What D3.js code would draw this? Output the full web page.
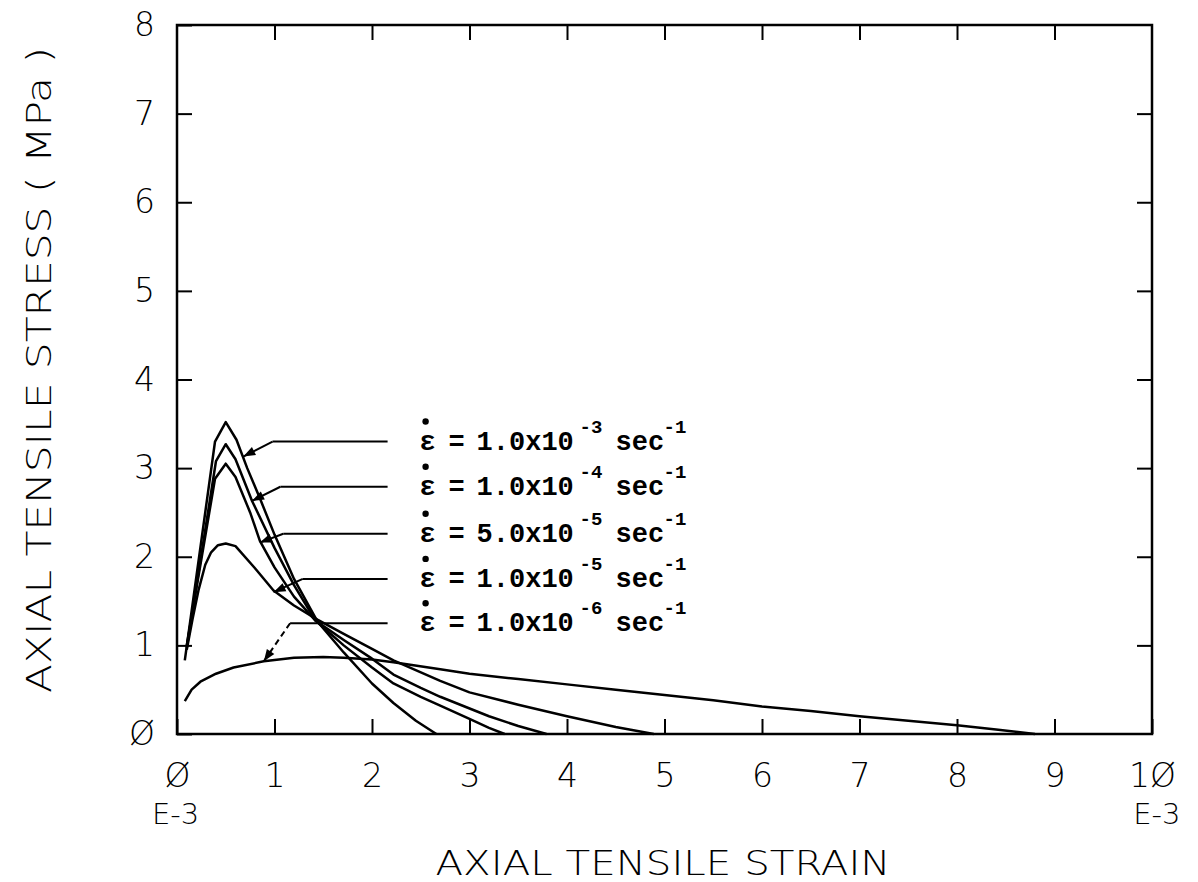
<!DOCTYPE html>
<meta charset="utf-8">
<style>
body{margin:0;background:#fff;}
svg{display:block;background:#fff;}
.plot text{font-family:"DejaVu Sans",sans-serif;font-weight:200;fill:#000;}
.legend text{font-family:"Liberation Mono",monospace;font-weight:bold;fill:#000;}
</style>
<svg width="1198" height="882"></svg>
<script src="https://d3js.org/d3.v7.min.js"></script>
<script>
// stress-strain curves, strain in 1e-3, stress in MPa
const curveRate3 = [[0.08,0.83],[0.39,3.3],[0.5,3.52],[0.61,3.32],[0.72,3.0],[0.85,2.66],[1.0,2.25],[1.2,1.75],[1.44,1.27],[1.71,0.92],[2.0,0.57],[2.22,0.35],[2.45,0.15],[2.66,0]]
const curveRate4 = [[0.1,0.97],[0.4,3.08],[0.5,3.27],[0.6,3.1],[0.77,2.63],[1.0,2.1],[1.2,1.68],[1.42,1.28],[1.71,1.0],[2.0,0.75],[2.22,0.57],[2.5,0.42],[2.7,0.32],[3.0,0.17],[3.2,0.07],[3.36,0]]
const curveRate5a = [[0.1,1.0],[0.39,2.88],[0.5,3.05],[0.6,2.9],[0.75,2.5],[0.85,2.18],[1.0,1.88],[1.2,1.55],[1.42,1.28],[1.71,1.06],[2.0,0.85],[2.22,0.67],[2.5,0.52],[2.7,0.42],[3.2,0.2],[3.5,0.09],[3.79,0]]
const curveRate5b = [[0.1,0.95],[0.16,1.3],[0.22,1.62],[0.29,1.91],[0.35,2.05],[0.42,2.13],[0.5,2.15],[0.6,2.12],[0.8,1.87],[0.99,1.62],[1.2,1.45],[1.44,1.29],[1.71,1.13],[2.0,0.96],[2.22,0.83],[2.7,0.6],[3.0,0.47],[3.5,0.33],[4.0,0.2],[4.5,0.08],[4.89,0]]
const curveRate6 = [[0.08,0.37],[0.15,0.5],[0.24,0.59],[0.4,0.68],[0.58,0.75],[0.89,0.82],[1.2,0.86],[1.5,0.87],[1.71,0.86],[2.0,0.84],[2.22,0.81],[2.7,0.73],[3.0,0.68],[3.5,0.62],[4.0,0.56],[4.5,0.5],[5.0,0.44],[5.5,0.38],[6.0,0.31],[6.5,0.26],[7.0,0.2],[7.5,0.15],[8.0,0.1],[8.4,0.05],[8.8,0]]
const curves = [curveRate3, curveRate4, curveRate5a, curveRate5b, curveRate6]

// legend: strain rate labels and leader lines
const rateMantissa = ["1.0", "1.0", "5.0", "1.0", "1.0"]
const rateExponent = ["-3", "-4", "-5", "-5", "-6"]
const leaderLevel = [3.3, 2.79, 2.26, 1.75, 1.25]
const leaderElbow = [0.98, 1.06, 1.09, 1.29, 1.16]
const leaderEnd = 2.16
const arrowTip = [[0.68,3.13],[0.77,2.63],[0.85,2.16],[0.99,1.6],[0.89,0.82]]

const xTicks = d3.range(0, 11)
const yTicks = d3.range(0, 9)

const svg = d3.select('svg')
const x = d3.scaleLinear().domain([0, 10]).range([177, 1152])
const y = d3.scaleLinear().domain([0, 8]).range([734, 25])
const slash = d => String(d).replace(/0/g, 'Ø')

const plot = svg.append('g').attr('class', 'plot')

// frame
plot.append('rect')
  .attr('x', x(0)).attr('y', y(8))
  .attr('width', x(10) - x(0)).attr('height', y(0) - y(8))
  .attr('fill', 'none').attr('stroke', '#000').attr('stroke-width', 2.5)

// axes, ticks pointing inward
let styleAxis = g => {
  g.select('.domain').remove()
  g.selectAll('.tick line').attr('stroke', '#000').attr('stroke-width', 2)
  g.selectAll('.tick text').style('font-size', '33px').attr('fill', '#000')
}
let bottom = plot.append('g').attr('transform', `translate(0,${y(0)})`)
  .call(d3.axisBottom(x).tickValues(xTicks).tickSize(-15).tickSizeOuter(0).tickPadding(30).tickFormat(slash))
  .call(styleAxis)
plot.append('g').attr('transform', `translate(0,${y(8)})`)
  .call(d3.axisTop(x).tickValues(xTicks.slice(1, 10)).tickSize(-15).tickSizeOuter(0).tickFormat(''))
  .call(styleAxis)
plot.append('g').attr('transform', `translate(${x(0)},0)`)
  .call(d3.axisLeft(y).tickValues(yTicks).tickSize(-15).tickSizeOuter(0).tickPadding(22).tickFormat(slash))
  .call(styleAxis)
plot.append('g').attr('transform', `translate(${x(10)},0)`)
  .call(d3.axisRight(y).tickValues(yTicks.slice(1, 8)).tickSize(-15).tickSizeOuter(0).tickFormat(''))
  .call(styleAxis)

// exponent marker under the first and last strain labels
bottom.selectAll('.tick text').filter(d => d === 0 || d === 10)
  .append('tspan')
  .attr('x', d => d === 0 ? -2 : 28)
  .attr('dy', '1.25em')
  .attr('text-anchor', d => d === 0 ? 'middle' : 'end')
  .style('font-size', '29px')
  .text('E-3')

// axis titles
plot.append('text').attr('x', 663).attr('y', 875).attr('text-anchor', 'middle')
  .attr('textLength', 455).attr('lengthAdjust', 'spacingAndGlyphs')
  .style('font-size', '34px').text('AXIAL TENSILE STRAIN')
plot.append('text').attr('transform', 'translate(51,370) rotate(-90)').attr('text-anchor', 'middle')
  .attr('textLength', 646).attr('lengthAdjust', 'spacingAndGlyphs')
  .style('font-size', '34px').text('AXIAL TENSILE STRESS ( MPa )')

// curves
let line = d3.line().x(d => x(d[0])).y(d => y(d[1]))
plot.selectAll('path.curve').data(curves).enter()
  .append('path').attr('class', 'curve')
  .attr('d', line)
  .attr('fill', 'none').attr('stroke', '#000').attr('stroke-width', 2.5)
  .attr('stroke-linejoin', 'round')

// leader lines with arrow heads
const legend = svg.append('g').attr('class', 'legend')
const rows = legend.selectAll('g.row').data(rateMantissa).enter().append('g').attr('class', 'row')

rows.append('polyline')
  .attr('points', (_, i) => [[x(leaderEnd), y(leaderLevel[i])], [x(leaderElbow[i]), y(leaderLevel[i])]].join(' '))
  .attr('fill', 'none').attr('stroke', '#000').attr('stroke-width', 2)
rows.append('line')
  .attr('x1', (_, i) => x(leaderElbow[i])).attr('y1', (_, i) => y(leaderLevel[i]))
  .attr('x2', (_, i) => x(arrowTip[i][0])).attr('y2', (_, i) => y(arrowTip[i][1]))
  .attr('stroke', '#000').attr('stroke-width', 2)
  .attr('stroke-dasharray', (_, i) => i === 4 ? '6,4' : null)
rows.append('path')
  .attr('d', (_, i) => {
    let tx = x(arrowTip[i][0]), ty = y(arrowTip[i][1])
    let ex = x(leaderElbow[i]), ey = y(leaderLevel[i])
    let a = Math.atan2(ey - ty, ex - tx)
    let len = 12, w = 4.5
    let bx = tx + len * Math.cos(a), by = ty + len * Math.sin(a)
    let px = -Math.sin(a) * w, py = Math.cos(a) * w
    return `M${tx},${ty}L${bx + px},${by + py}L${bx - px},${by - py}Z`
  })
  .attr('fill', '#000')

// legend labels
let labelX = x(leaderEnd) + 32
rows.append('circle')
  .attr('cx', labelX + 6).attr('cy', (_, i) => y(leaderLevel[i]) - 20).attr('r', 3.2).attr('fill', '#000')
let label = rows.append('text').attr('y', (_, i) => y(leaderLevel[i]) + 8).style('font-size', '27px')
label.append('tspan').attr('x', labelX).text('ε')
label.append('tspan').attr('x', labelX + 29).text('=')
label.append('tspan').attr('x', labelX + 57).text(d => d + 'x10')
label.append('tspan').attr('x', labelX + 160).attr('dy', -17).style('font-size', '19px').text((_, i) => rateExponent[i])
label.append('tspan').attr('x', labelX + 196).attr('dy', 17).text('sec')
label.append('tspan').attr('x', labelX + 244).attr('dy', -17).style('font-size', '19px').text('-1')
</script>
